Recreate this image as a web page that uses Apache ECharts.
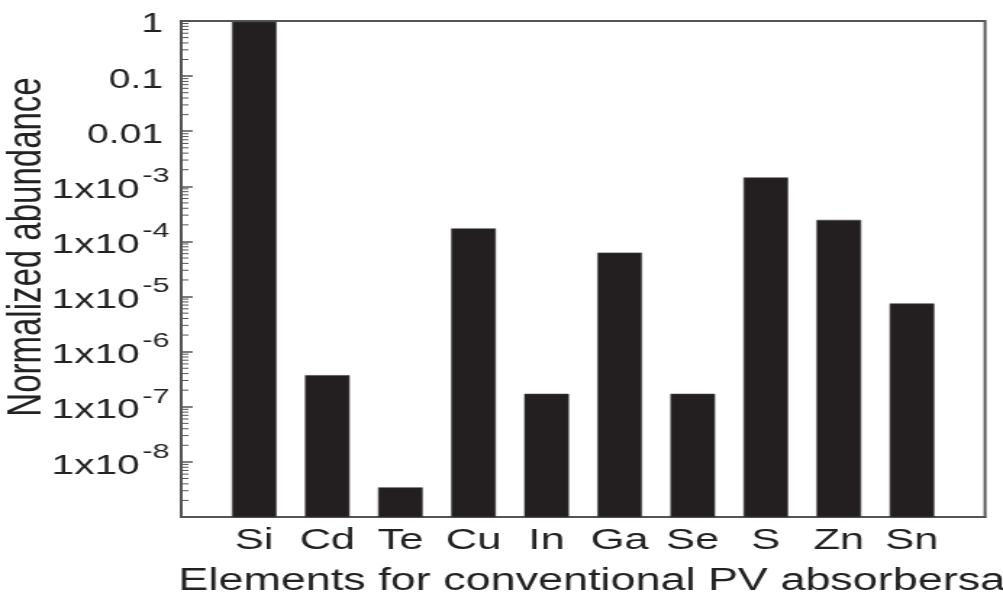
<!DOCTYPE html>
<html>
<head>
<meta charset="utf-8">
<script src="https://cdn.jsdelivr.net/npm/echarts@6/dist/echarts.min.js"></script>
<style>
  html, body { margin: 0; padding: 0; background: #fff; overflow: hidden; }
  /* the figure is drawn at a narrower width and stretched horizontally */
  #chart { width: 692px; height: 599px; transform: scaleX(1.4494); transform-origin: 0 0; }
</style>
</head>
<body>
<div id="chart"></div>
<script>
// Elements and their normalized crustal abundance (log scale)
const categories = ['Si', 'Cd', 'Te', 'Cu', 'In', 'Ga', 'Se', 'S', 'Zn', 'Sn'];
const abundance = [0.96, 3.7e-7, 3.4e-9, 1.7e-4, 1.7e-7, 6.2e-5, 1.7e-7, 1.43e-3, 2.43e-4, 7.4e-6];

// y tick labels: plain decimals for the top decades, powers of ten below
const plainTickLabels = ['1', '0.1', '0.01'];
const expTickLabels = ['-3', '-4', '-5', '-6', '-7', '-8'];
const minorMultipliers = [2, 3, 4, 5, 6, 7, 8, 9];

const yMin = 1e-9, yMax = 1;
const barColor = '#231f20';
const axisColor = '#555';
const textColor = '#222';
const font = 'Liberation Sans, Arial, sans-serif';

const barData = categories.map((c, i) => [i + 1, abundance[i]]);

// minor tick positions inside each decade of the log axis
const minorData = [];
for (let e = -9; e < 0; e++) {
  minorMultipliers.forEach(m => minorData.push([0, m * Math.pow(10, e)]));
}

const chart = echarts.init(document.getElementById('chart'));
chart.setOption({
  animation: false,
  backgroundColor: '#fff',
  grid: {
    left: 125, right: 12.4, top: 21, bottom: 82,
    outerBoundsMode: 'none',
    containLabel: false,
    show: true, borderColor: axisColor, borderWidth: 2, backgroundColor: 'transparent'
  },
  xAxis: {
    type: 'value', min: 0, max: 11, interval: 1,
    name: 'Elements for conventional PV absorbersa',
    nameLocation: 'middle', nameGap: 49,
    nameMoveOverlap: false,
    nameTextStyle: { fontFamily: font, fontSize: 31, color: textColor, padding: [0, 0, 0, 12] },
    axisLine: { show: true, onZero: false, lineStyle: { color: axisColor, width: 2 } },
    axisTick: { show: false },
    splitLine: { show: false },
    axisLabel: {
      margin: 9, fontFamily: font, fontSize: 30, color: textColor,
      formatter: v => categories[Math.round(v) - 1] || ''
    }
  },
  yAxis: {
    type: 'log', logBase: 10, min: yMin, max: yMax, interval: 1,
    name: 'Normalized abundance',
    nameLocation: 'middle', nameGap: 90,
    nameMoveOverlap: false,
    nameTextStyle: { fontFamily: font, fontSize: 33, color: textColor, padding: [0, 0, 0, 44] },
    axisLine: { show: true, lineStyle: { color: axisColor, width: 2 } },
    axisTick: { show: true, inside: true, length: 8, lineStyle: { color: axisColor, width: 1.5 } },
    splitLine: { show: false },
    axisLabel: {
      margin: 8, color: textColor, fontFamily: font,
      formatter: v => {
        const k = -Math.round(Math.log10(v));
        if (k < plainTickLabels.length) return '{n|' + plainTickLabels[k] + '}';
        const exp = expTickLabels[k - plainTickLabels.length];
        return exp ? '{b|1x10}{s|' + exp + '}' : '';
      },
      rich: {
        n: { fontFamily: font, fontSize: 27, lineHeight: 28, color: textColor, padding: [8, 4.5, 0, 0] },
        b: { fontFamily: font, fontSize: 28, lineHeight: 29, color: textColor, padding: [8, 0, 0, 0] },
        s: { fontFamily: font, fontSize: 21, lineHeight: 21, color: textColor, padding: [0, 0, 20, 2] }
      }
    }
  },
  series: [
    {
      name: 'abundance',
      type: 'custom',
      data: barData,
      renderItem: (params, api) => {
        const x = api.value(0), v = api.value(1);
        const top = api.coord([x, v]);
        const base = api.coord([x, yMin]);
        const w = api.coord([x + 0.3, v])[0] - api.coord([x - 0.3, v])[0];
        return {
          type: 'rect',
          shape: { x: top[0] - w / 2, y: top[1], width: w, height: base[1] - top[1] },
          style: { fill: barColor, stroke: '#444', lineWidth: 0.6 }
        };
      }
    },
    {
      name: 'minorTicks',
      type: 'custom',
      silent: true,
      data: minorData,
      renderItem: (params, api) => {
        const p = api.coord([0, api.value(1)]);
        return {
          type: 'line',
          shape: { x1: p[0], y1: p[1], x2: p[0] + 5, y2: p[1] },
          style: { stroke: axisColor, lineWidth: 1 }
        };
      }
    }
  ]
});
</script>
</body>
</html>
